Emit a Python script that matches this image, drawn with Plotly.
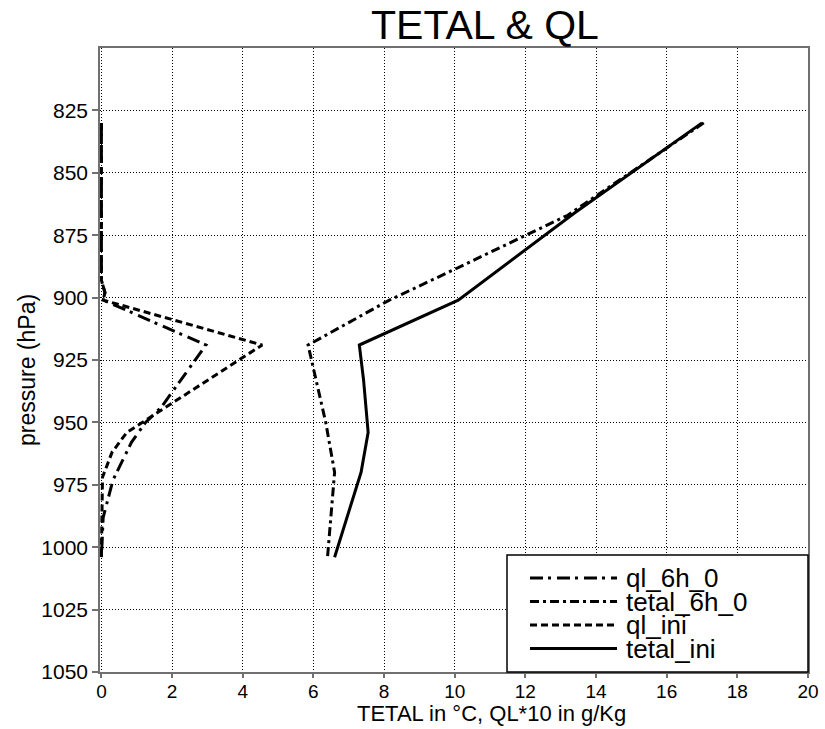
import plotly.graph_objects as go

# ---- profiles (pressure in hPa, TETAL in degC, QL*10 in g/kg) ----
p_ql_6h = [830, 893, 898, 901, 919, 935, 944, 950, 958, 973, 978, 988, 1004]
ql_6h = [0.0, 0.0, 0.1, 0.05, 2.96, 2.16, 1.69, 1.25, 0.85, 0.33, 0.23, 0.05, 0.0]

p_tetal_6h = [830, 867, 889, 901, 919, 950, 970, 1004]
tetal_6h = [17.05, 13.2, 9.95, 8.15, 5.85, 6.35, 6.6, 6.4]

p_ql_ini = [830, 893, 898, 901, 919, 954, 962, 972, 1004]
ql_ini = [0.0, 0.0, 0.1, 0.05, 4.55, 0.72, 0.3, 0.03, 0.0]

p_tetal_ini = [830, 866, 901, 919, 933, 954, 970, 1004]
tetal_ini = [17.0, 13.4, 10.1, 7.3, 7.42, 7.55, 7.35, 6.6]

series_names = ["ql_6h_0", "tetal_6h_0", "ql_ini", "tetal_ini"]
series_x = [ql_6h, tetal_6h, ql_ini, tetal_ini]
series_p = [p_ql_6h, p_tetal_6h, p_ql_ini, p_tetal_ini]
series_dash = ["13px,5px,3px,6px", "9px,4px,3px,4px", "7px,4px", "solid"]

x_ticks = list(range(0, 21, 2))
p_ticks = list(range(825, 1051, 25))

FONT = "Liberation Sans, Arial, sans-serif"

# figure and plot-area geometry in pixels
FW, FH = 825, 729
L, T, R, B = 100, 48, 808, 672
W, H = R - L, B - T


def px(x):
    return (x - L) / W


def py(y):
    return 1 - (y - T) / H


fig = go.Figure()
for name, xs, ps, dash in zip(series_names, series_x, series_p, series_dash):
    fig.add_trace(go.Scatter(
        x=xs, y=ps, mode="lines", name=name, showlegend=False,
        line=dict(color="black", width=3, dash=dash),
    ))

axis_common = dict(
    showline=True, mirror=True, linecolor="#707070", linewidth=1.5,
    ticks="outside", tickcolor="#707070", tickwidth=1.5,
    showgrid=True, gridcolor="black", gridwidth=1, griddash="1px,2px",
    zeroline=False, layer="below traces", automargin=False,
)

fig.update_xaxes(range=[-0.04, 20], tickvals=x_ticks, ticklen=4,
                 ticklabelstandoff=-3,
                 tickfont=dict(family=FONT, size=19, color="black"),
                 **axis_common)
fig.update_yaxes(range=[1050, 800], tickvals=p_ticks, ticklen=6,
                 tickfont=dict(family=FONT, size=21, color="black"),
                 **axis_common)

shapes = []
annotations = []

# legend box in the lower right corner of the plot area
lg_x0, lg_y0 = 507, 555
shapes.append(dict(type="rect", xref="paper", yref="paper",
                   x0=px(lg_x0), x1=1, y0=0, y1=py(lg_y0),
                   fillcolor="white", line=dict(color="black", width=1.5),
                   layer="above"))
row_y = [578, 601.5, 625, 648.5]
for name, dash, yy in zip(series_names, series_dash, row_y):
    shapes.append(dict(type="line", xref="paper", yref="paper",
                       x0=px(lg_x0 + 23), x1=px(lg_x0 + 110),
                       y0=py(yy), y1=py(yy),
                       line=dict(color="black", width=3, dash=dash),
                       layer="above"))
    annotations.append(dict(text=name, xref="paper", yref="paper",
                            x=px(lg_x0 + 117), y=py(yy), xanchor="left",
                            yanchor="middle", showarrow=False,
                            font=dict(family=FONT, size=26, color="black")))

# axis titles
annotations.append(dict(text="TETAL in °C, QL*10 in g/Kg", xref="paper",
                        yref="paper", x=px(491), y=py(713),
                        xanchor="center", yanchor="middle", showarrow=False,
                        font=dict(family=FONT, size=22, color="black")))
annotations.append(dict(text="pressure (hPa)", xref="paper", yref="paper",
                        x=px(27), y=py(370), xanchor="center",
                        yanchor="middle", textangle=-90, showarrow=False,
                        font=dict(family=FONT, size=23, color="black")))

fig.update_layout(
    template="none",
    width=FW, height=FH,
    margin=dict(l=L, r=FW - R, t=T, b=FH - B, pad=0, autoexpand=False),
    paper_bgcolor="white", plot_bgcolor="white",
    title=dict(text="TETAL & QL", xref="paper", x=px(485), xanchor="center",
               yref="container", y=1 - 25 / FH, yanchor="middle",
               font=dict(family=FONT, size=41, color="black")),
    shapes=shapes, annotations=annotations,
)

fig.write_html("out.html")
